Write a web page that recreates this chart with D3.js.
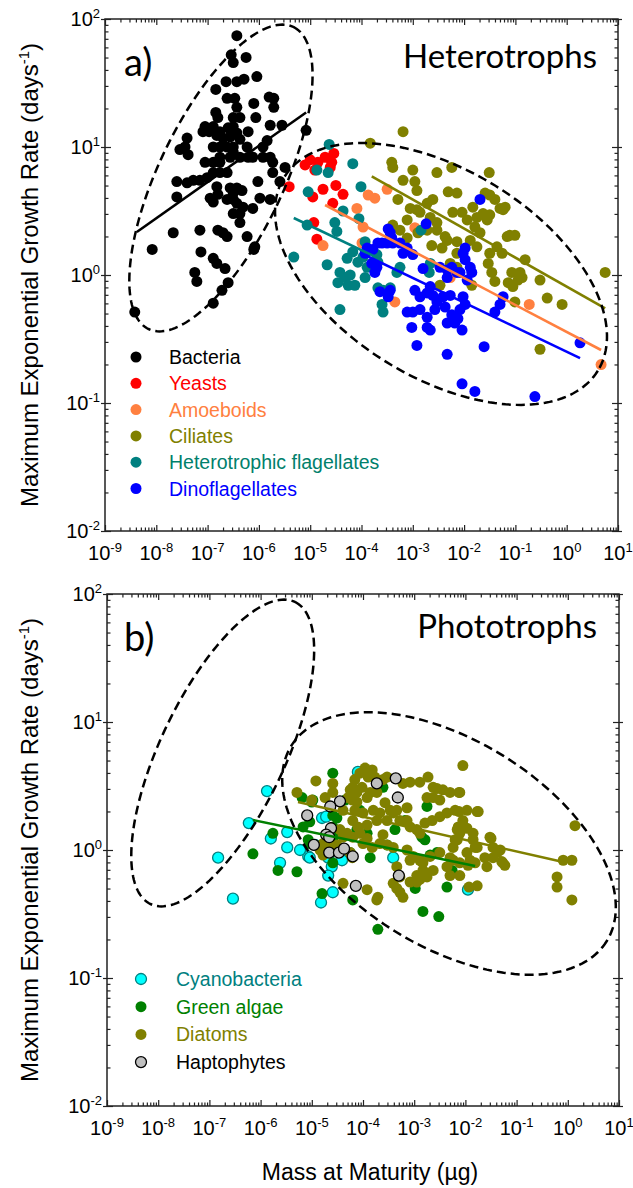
<!DOCTYPE html>
<html>
<head>
<meta charset="utf-8">
<script src="https://cdn.jsdelivr.net/npm/d3@7"></script>
<style>
body { margin: 0; background: #fff; }
text { font-family: "Liberation Sans", Arial, sans-serif; }
.tag { font-family: Lato, "Open Sans", sans-serif; }
</style>
</head>
<body>
<script>
// All points are [log10 mass at maturity (ug), log10 max growth rate (1/day)]

// ---- panel a: heterotrophs
var bacteria = [[-6.43,1.87],[-6.54,1.72],[-6.50,1.66],[-6.25,1.70],[-6.64,1.51],[-6.43,1.51],[-6.29,1.53],[-6.04,1.55],[-6.84,1.45],[-5.80,1.39],[-5.71,1.38],[-5.71,1.31],[-6.62,1.38],[-6.47,1.38],[-6.43,1.31],[-6.10,1.34],[-6.84,1.27],[-6.80,1.23],[-6.50,1.23],[-6.37,1.23],[-6.06,1.23],[-5.78,1.17],[-5.55,1.17],[-7.05,1.16],[-6.89,1.16],[-6.76,1.12],[-6.60,1.15],[-6.50,1.16],[-7.09,1.12],[-6.97,1.12],[-6.21,1.12],[-5.08,1.13],[-7.40,1.07],[-7.44,1.00],[-6.82,1.09],[-6.70,1.07],[-6.56,1.08],[-6.43,1.11],[-6.37,1.06],[-6.89,1.00],[-6.76,1.00],[-6.62,1.00],[-6.50,1.00],[-6.50,0.96],[-6.23,1.00],[-5.84,1.05],[-5.92,1.00],[-7.54,0.98],[-7.38,0.94],[-6.76,0.92],[-6.56,0.92],[-6.37,0.92],[-6.21,0.92],[-6.12,0.92],[-5.92,0.92],[-5.78,0.92],[-6.89,0.88],[-6.76,0.88],[-7.05,0.88],[-6.89,0.80],[-5.49,0.84],[-5.73,0.88],[-5.73,0.80],[-7.60,0.73],[-7.40,0.72],[-7.28,0.74],[-7.15,0.74],[-7.01,0.76],[-6.76,0.80],[-6.62,0.80],[-6.02,0.73],[-5.59,0.73],[-6.82,0.69],[-6.56,0.68],[-6.50,0.64],[-6.43,0.68],[-6.33,0.66],[-6.80,0.63],[-7.60,0.61],[-6.95,0.60],[-6.89,0.57],[-6.62,0.59],[-6.50,0.59],[-6.43,0.56],[-6.31,0.53],[-6.12,0.52],[-5.98,0.60],[-5.78,0.59],[-6.50,0.48],[-6.37,0.48],[-6.37,0.41],[-7.67,0.33],[-8.08,0.20],[-7.15,0.35],[-6.80,0.35],[-6.70,0.33],[-6.62,0.30],[-6.23,0.30],[-6.08,0.22],[-7.13,0.18],[-6.89,0.13],[-6.82,0.09],[-6.66,0.05],[-7.25,0.02],[-7.21,-0.05],[-6.60,-0.06],[-6.72,-0.12],[-6.89,-0.22],[-8.42,-0.29],[-6.10,0.20]];
var yeasts = [[-4.54,0.95],[-4.58,0.88],[-4.61,0.84],[-5.00,0.90],[-4.85,0.88],[-4.91,0.82],[-5.41,0.69],[-4.95,0.61],[-4.75,0.67],[-4.50,0.70],[-4.36,0.63],[-4.56,0.56],[-4.93,0.41],[-4.87,0.28],[-5.10,0.86],[-4.71,0.92]];
var amoeboids = [[-3.87,0.625],[-3.74,0.60],[-3.50,0.67],[-4.09,0.52],[-3.97,0.375],[-4.75,0.23],[-3.99,0.25],[-2.96,0.37],[-3.35,-0.21],[-0.73,-0.23],[0.67,-0.70],[-2.27,-0.02]];
var ciliates = [[-3.19,1.12],[-3.83,1.03],[-3.41,0.88],[-3.39,0.84],[-3.00,0.82],[-2.53,0.80],[-2.24,0.84],[-1.51,0.80],[-3.19,0.74],[-2.96,0.73],[-2.92,0.66],[-3.29,0.59],[-2.61,0.59],[-2.31,0.65],[-2.14,0.64],[-1.59,0.64],[-1.50,0.625],[-1.40,0.59],[-1.30,0.52],[-1.24,0.51],[-1.83,0.53],[-1.94,0.43],[-1.79,0.375],[-1.63,0.48],[-1.55,0.43],[-1.69,0.33],[-3.05,0.52],[-2.92,0.51],[-3.11,0.43],[-2.22,0.49],[-2.04,0.49],[-2.66,0.45],[-2.53,0.41],[-3.39,0.39],[-3.25,0.35],[-2.90,0.33],[-2.72,0.35],[-2.53,0.35],[-1.16,0.30],[-1.11,0.31],[-1.01,0.31],[-1.36,0.22],[-1.50,0.17],[-1.26,0.17],[-0.81,0.12],[-1.07,0.02],[-0.91,0.02],[-0.95,-0.04],[-1.14,-0.06],[-1.05,-0.09],[-0.52,-0.04],[-0.38,-0.18],[-2.14,0.17],[-2.27,0.09],[-2.14,0.06],[-2.33,0.27],[-2.14,0.26],[-2.63,0.23],[-3.11,0.29],[0.75,0.02],[-1.50,0.47],[-1.20,0.53],[-1.75,0.45],[-1.88,0.27],[-1.75,0.22],[-1.46,0.02],[-1.40,-0.05],[-1.85,-0.08],[-2.47,-0.08],[-1.01,-0.21],[-0.09,-0.23],[-0.52,-0.58],[-2.72,0.56],[-2.37,0.30],[-2.86,0.49],[-2.43,0.21],[-1.53,0.09],[-0.87,-0.02]];
var hetFlagellates = [[-4.63,1.02],[-4.17,0.87],[-4.87,0.82],[-4.65,0.80],[-5.04,0.65],[-4.01,0.69],[-4.36,0.50],[-4.52,0.41],[-4.48,0.34],[-4.05,0.44],[-5.06,0.39],[-5.32,0.14],[-4.67,0.08],[-4.42,0.02],[-4.32,-0.02],[-4.22,0.00],[-4.46,-0.06],[-4.26,-0.08],[-4.13,-0.08],[-4.28,0.13],[-4.17,0.18],[-4.07,0.10],[-3.97,0.14],[-3.89,0.06],[-3.93,-0.02],[-3.93,0.26],[-3.70,0.16],[-3.68,0.10],[-3.25,0.06],[-3.31,0.02],[-3.68,-0.10],[-3.58,-0.12],[-3.44,-0.10],[-3.60,-0.23],[-3.58,-0.29],[-4.42,-0.27],[-2.68,0.02],[-2.84,0.35],[-2.66,0.09]];
var dinoflagellates = [[-1.69,0.59],[-2.74,0.40],[-3.48,0.36],[-3.41,0.29],[-3.60,0.25],[-3.50,0.25],[-3.39,0.25],[-3.25,0.25],[-3.11,0.21],[-3.00,0.16],[-3.89,0.21],[-3.78,0.20],[-3.68,0.25],[-3.93,0.17],[-3.80,0.09],[-3.70,0.06],[-3.74,0.02],[-2.80,0.05],[-2.47,0.06],[-2.33,0.04],[-2.24,0.06],[-2.14,0.02],[-2.33,-0.02],[-1.98,0.21],[-2.02,0.17],[-1.98,0.12],[-1.88,0.06],[-1.85,0.02],[-2.08,0.02],[-1.94,-0.04],[-2.66,-0.09],[-2.61,-0.16],[-2.53,-0.21],[-2.41,-0.17],[-2.27,-0.16],[-2.37,-0.25],[-2.57,-0.27],[-2.02,-0.17],[-1.98,-0.23],[-2.08,-0.27],[-2.12,-0.34],[-2.18,-0.375],[-2.24,-0.31],[-2.33,-0.375],[-2.04,-0.43],[-2.66,-0.43],[-1.24,-0.17],[-1.30,-0.23],[-1.40,-0.29],[0.26,-0.53],[-2.33,-0.62],[-1.61,-0.56],[-2.04,-0.85],[-1.79,-0.91],[-0.62,-0.95],[-3.64,-0.13],[-3.44,-0.12],[-3.48,-0.17],[-2.96,-0.12],[-2.86,-0.17],[-2.72,-0.14],[-3.11,-0.29],[-3.00,-0.29],[-2.86,-0.27],[-2.72,-0.33],[-3.02,-0.41],[-2.72,-0.41],[-2.92,-0.55],[-3.19,0.17],[-3.44,0.33]];

// ---- panel b: phototrophs
var cyanobacteria = [[-5.875,0.46],[-6.23,0.21],[-6.83,-0.06],[-6.54,-0.38],[-5.80,0.09],[-5.48,0.14],[-5.48,0.02],[-5.62,-0.10],[-5.07,-0.05],[-4.10,0.61],[-4.80,0.25],[-4.72,0.26],[-5.04,-0.06],[-4.68,-0.06],[-4.41,-0.08],[-4.61,-0.13],[-4.68,-0.20],[-4.59,-0.33],[-4.82,-0.41],[-3.41,-0.06],[-1.95,-0.31],[-5.23,0.00],[-4.94,0.04]];
var greenAlgae = [[-5.76,0.13],[-6.15,-0.03],[-5.66,-0.16],[-5.29,-0.17],[-5.00,0.375],[-5.19,0.41],[-5.04,0.22],[-5.04,0.05],[-4.59,0.60],[-4.98,0.39],[-5.17,0.18],[-5.07,0.08],[-4.59,0.27],[-4.51,0.25],[-4.59,0.18],[-4.51,0.14],[-4.59,0.08],[-3.61,0.49],[-2.75,0.34],[-4.12,0.16],[-3.92,0.13],[-3.86,-0.06],[-3.375,0.16],[-2.85,0.10],[-2.79,0.08],[-2.69,-0.04],[-2.555,-0.02],[-2.98,-0.30],[-2.36,-0.29],[-4.80,-0.34],[-4.20,-0.39],[-4.59,-0.10],[-2.83,-0.48],[-2.52,-0.52],[-3.71,-0.62],[-4.25,-0.02],[-2.26,-0.16],[-3.53,0.04],[-3.18,0.23],[-4.06,0.31],[-4.35,0.39]];
var diatoms = [[-3.96,0.64],[-3.82,0.625],[-3.90,0.57],[-4.06,0.60],[-3.61,0.55],[-3.77,0.57],[-4.16,0.55],[-4.20,0.49],[-4.02,0.49],[-4.12,0.45],[-3.92,0.41],[-3.86,0.45],[-3.73,0.45],[-4.59,0.52],[-4.59,0.45],[-4.92,0.54],[-5.29,0.45],[-4.74,0.41],[-5.00,0.39],[-4.21,0.39],[-4.39,0.31],[-4.16,0.31],[-4.00,0.29],[-3.80,0.31],[-3.67,0.29],[-3.47,0.31],[-3.34,0.31],[-3.14,0.33],[-3.22,0.52],[-3.08,0.53],[-2.89,0.53],[-2.73,0.57],[-2.63,0.49],[-2.555,0.48],[-2.44,0.47],[-2.75,0.41],[-2.63,0.41],[-2.50,0.39],[-2.30,0.45],[-2.05,0.66],[-2.11,0.45],[-2.20,0.31],[-1.97,0.31],[-1.75,0.30],[-4.20,0.23],[-4.10,0.18],[-3.92,0.195],[-3.73,0.23],[-3.53,0.23],[-3.41,0.29],[-3.28,0.23],[-3.14,0.23],[-3.08,0.18],[-2.95,0.16],[-2.89,0.13],[-2.79,0.21],[-2.65,0.23],[-2.50,0.26],[-2.36,0.29],[-4.39,0.10],[-4.20,0.10],[-4.06,0.13],[-4.00,0.05],[-3.82,0.02],[-3.67,0.05],[-3.61,0.12],[-3.14,0.00],[-3.08,-0.08],[-3.02,-0.05],[-2.89,-0.08],[-2.83,-0.10],[-2.83,-0.16],[-2.75,-0.18],[-2.95,-0.20],[-2.89,-0.23],[-2.69,-0.05],[-2.50,-0.02],[-2.24,0.02],[-2.16,0.08],[-2.16,0.16],[-2.11,0.13],[-1.97,0.17],[-1.85,0.13],[-1.85,0.08],[-1.81,0.02],[-1.97,-0.02],[-1.91,-0.08],[-2.11,-0.10],[-2.24,-0.08],[-2.36,-0.13],[-2.30,-0.20],[-1.52,0.10],[-1.46,0.02],[-1.32,0.00],[-1.27,-0.10],[-1.46,-0.06],[-1.58,-0.13],[-3.34,-0.13],[-3.28,-0.21],[-3.08,-0.25],[-2.95,-0.25],[-2.75,-0.21],[-2.63,-0.16],[-3.41,-0.26],[-3.28,-0.33],[-3.22,-0.37],[-3.92,-0.31],[-3.73,-0.39],[-4.39,-0.26],[-0.21,-0.21],[-0.21,-0.29],[-0.09,-0.08],[0.08,-0.08],[0.14,0.19],[0.08,-0.39],[-2.125,0.45],[-2.125,0.30],[-1.77,0.30],[-2.05,0.23],[-2.14,0.18],[-2.20,0.08],[-1.50,0.09],[-1.77,0.02],[-1.38,-0.02],[-2.30,-0.06],[-1.95,-0.12],[-1.81,-0.10],[-1.62,-0.06],[-1.29,-0.09],[-1.23,-0.12],[-2.11,-0.20],[-1.93,-0.29],[-1.77,-0.28],[-4.25,0.47],[-4.29,0.41],[-4.12,0.375],[-3.53,0.57],[-3.57,0.37],[-3.41,0.02],[-3.53,0.04],[-4.45,0.16],[-4.31,0.13],[-3.92,0.09],[-4.78,0.05],[-4.64,0.02],[-4.51,0.04],[-4.84,0.00],[-4.78,-0.04],[-2.85,-0.09],[-4.25,-0.02],[-4.21,-0.06],[-3.71,-0.37],[-3.34,-0.30]];
var haptophytes = [[-3.73,0.52],[-3.36,0.56],[-3.32,0.41],[-4.45,0.38],[-4.64,0.34],[-5.09,0.27],[-4.625,0.17],[-4.72,0.12],[-4.66,0.10],[-4.96,0.04],[-4.66,-0.02],[-4.47,-0.02],[-4.37,0.01],[-4.20,-0.05],[-3.30,-0.20],[-4.14,-0.28]];

// regression lines, two end points each (same log units)
var fitBacteria = [[-8.38,0.336],[-5.08,1.27]];
var fitAmoeboids = [[-4.71,0.547],[0.67,-0.586]];
var fitCiliates = [[-3.80,0.77],[0.75,-0.26]];
var fitHetFlag = [[-5.32,0.445],[-3.64,0.125]];
var fitDinos = [[-3.93,0.156],[0.26,-0.65]];
var fitGreen = [[-6.15,0.234],[-1.81,-0.125]];
var fitDiatoms = [[-5.27,0.375],[-0.09,-0.094]];

// dashed envelopes: centre and two conjugate semi-axes (log units)
var envBacteria = {center: [-6.74, 0.758], u: [1.411, 1.180], v: [1.095, -0.210]};
var envHetero = {center: [-2.45, 0.008], u: [3.057, -0.756], v: [-1.060, -0.689]};
var envPhoto = {center: [-2.32, 0.051], u: [3.082, -0.762], v: [-1.056, -0.686]};

var massExponents = [-9, -8, -7, -6, -5, -4, -3, -2, -1, 0, 1];
var rateExponents = [-2, -1, 0, 1, 2];

var namesA = ["Bacteria", "Yeasts", "Amoeboids", "Ciliates", "Heterotrophic flagellates", "Dinoflagellates"];
var namesB = ["Cyanobacteria", "Green algae", "Diatoms", "Haptophytes"];

var svg = d3.select("body").append("svg")
    .attr("width", 633)
    .attr("height", 1188);

var panels = [
  {tag: "a)", title: "Heterotrophs", left: 105, right: 618, top: 19, bottom: 531, titleDy: 49,
   legX: 136, legTextX: 169, legY: 357, legStep: 26.3, legSize: 19.5,
   series: [
     {name: namesA[0], data: bacteria, fill: "#000000", text: "#000000", fit: fitBacteria},
     {name: namesA[1], data: yeasts, fill: "#ff0000", text: "#ff0000"},
     {name: namesA[2], data: amoeboids, fill: "#ff8040", text: "#ff8040", fit: fitAmoeboids},
     {name: namesA[3], data: ciliates, fill: "#808000", text: "#808000", fit: fitCiliates},
     {name: namesA[4], data: hetFlagellates, fill: "#008080", text: "#00806c", fit: fitHetFlag},
     {name: namesA[5], data: dinoflagellates, fill: "#0000ff", text: "#0000ff", fit: fitDinos}
   ],
   envelopes: [envBacteria, envHetero]},
  {tag: "b)", title: "Phototrophs", left: 107, right: 619, top: 594, bottom: 1106, titleDy: 44,
   legX: 141, legTextX: 176, legY: 979, legStep: 27.7, legSize: 19.5,
   series: [
     {name: namesB[0], data: cyanobacteria, fill: "#00ffff", stroke: "#008080", text: "#008080"},
     {name: namesB[1], data: greenAlgae, fill: "#008000", text: "#008000", fit: fitGreen},
     {name: namesB[2], data: diatoms, fill: "#808000", text: "#808000", fit: fitDiatoms},
     {name: namesB[3], data: haptophytes, fill: "#c0c0c0", stroke: "#000000", text: "#000000"}
   ],
   envelopes: [envBacteria, envPhoto]}
];

panels.forEach(function(p) {
  var g = svg.append("g");
  var x = d3.scaleLog().domain([1e-9, 10]).range([p.left, p.right]);
  var y = d3.scaleLog().domain([1e-2, 1e2]).range([p.bottom, p.top]);
  var px = function(d) { return x(Math.pow(10, d[0])); };
  var py = function(d) { return y(Math.pow(10, d[1])); };

  var majorX = massExponents.map(function(k) { return Math.pow(10, k); });
  var majorY = rateExponents.map(function(k) { return Math.pow(10, k); });
  var minorX = [], minorY = [];
  massExponents.slice(0, -1).forEach(function(k) { d3.range(2, 10).forEach(function(m) { minorX.push(m * Math.pow(10, k)); }); });
  rateExponents.slice(0, -1).forEach(function(k) { d3.range(2, 10).forEach(function(m) { minorY.push(m * Math.pow(10, k)); }); });

  // ticks, all pointing into the plot; majors on the y sides also poke out a little
  function ticks(axis, vals, size, transform) {
    g.append("g").attr("transform", transform)
      .call(axis.tickValues(vals).tickSize(size).tickFormat(""))
      .call(function(s) { s.select(".domain").remove(); s.selectAll("line").attr("stroke", "#222").attr("stroke-width", 1.2); });
  }
  ticks(d3.axisBottom(x), majorX, -6, "translate(0," + p.bottom + ")");
  ticks(d3.axisBottom(x), minorX, -3.5, "translate(0," + p.bottom + ")");
  ticks(d3.axisTop(x), majorX, -6, "translate(0," + p.top + ")");
  ticks(d3.axisTop(x), minorX, -3.5, "translate(0," + p.top + ")");
  ticks(d3.axisLeft(y), majorY, -6, "translate(" + p.left + ",0)");
  ticks(d3.axisLeft(y), majorY, 4, "translate(" + p.left + ",0)");
  ticks(d3.axisLeft(y), minorY, -3.5, "translate(" + p.left + ",0)");
  ticks(d3.axisRight(y), majorY, -6, "translate(" + p.right + ",0)");
  ticks(d3.axisRight(y), majorY, 4, "translate(" + p.right + ",0)");
  ticks(d3.axisRight(y), minorY, -3.5, "translate(" + p.right + ",0)");

  // frame
  g.append("rect")
    .attr("x", p.left).attr("y", p.top)
    .attr("width", p.right - p.left).attr("height", p.bottom - p.top)
    .attr("fill", "none").attr("stroke", "#222").attr("stroke-width", 1.5);

  // tick labels as 10 with a raised exponent
  g.selectAll(".xlab").data(massExponents).enter().append("text")
    .attr("class", "xlab")
    .attr("x", function(k) { return x(Math.pow(10, k)); })
    .attr("y", p.bottom + 29)
    .attr("text-anchor", "middle")
    .style("font-size", "20px")
    .each(function(k) {
      var t = d3.select(this);
      t.append("tspan").text("10");
      t.append("tspan").attr("dy", -8).style("font-size", "13px").text(k);
    });
  g.selectAll(".ylab").data(rateExponents).enter().append("text")
    .attr("class", "ylab")
    .attr("x", p.left - 5)
    .attr("y", function(k) { return y(Math.pow(10, k)) + 7; })
    .attr("text-anchor", "end")
    .style("font-size", "20px")
    .each(function(k) {
      var t = d3.select(this);
      t.append("tspan").text("10");
      t.append("tspan").attr("dy", -8).style("font-size", "13px").text(k);
    });

  // y axis title
  var yt = g.append("text")
    .attr("transform", "translate(38," + (p.top + p.bottom) / 2 + ") rotate(-90)")
    .attr("text-anchor", "middle")
    .style("font-size", "24px");
  yt.append("tspan").text("Maximum Exponential Growth Rate (days");
  yt.append("tspan").attr("dy", -9).style("font-size", "15px").text("-1");
  yt.append("tspan").attr("dy", 9).text(")");

  // points, series in legend order
  p.series.forEach(function(s) {
    g.append("g").selectAll("circle")
      .data(s.data)
      .enter().append("circle")
      .attr("cx", px).attr("cy", py)
      .attr("r", 5.5)
      .attr("fill", s.fill)
      .attr("stroke", s.stroke || "none")
      .attr("stroke-width", s.stroke ? 1.3 : 0);
  });

  // regression lines
  p.series.filter(function(s) { return s.fit; }).forEach(function(s) {
    g.append("path")
      .attr("d", d3.line().x(px).y(py)(s.fit))
      .attr("stroke", s.fill).attr("stroke-width", 2.6).attr("fill", "none");
  });

  // dashed envelopes
  p.envelopes.forEach(function(e) {
    var pts = d3.range(0, 181).map(function(i) {
      var t = i / 180 * 2 * Math.PI;
      return [e.center[0] + e.u[0] * Math.cos(t) + e.v[0] * Math.sin(t),
              e.center[1] + e.u[1] * Math.cos(t) + e.v[1] * Math.sin(t)];
    });
    g.append("path")
      .attr("d", d3.line().x(px).y(py)(pts))
      .attr("fill", "none").attr("stroke", "#000")
      .attr("stroke-width", 2.5).attr("stroke-dasharray", "9,5");
  });

  // legend
  var leg = g.selectAll(".leg").data(p.series).enter().append("g")
    .attr("transform", function(s, i) { return "translate(0," + (p.legY + i * p.legStep) + ")"; });
  leg.append("circle")
    .attr("cx", p.legX).attr("r", 5.5)
    .attr("fill", function(s) { return s.fill; })
    .attr("stroke", function(s) { return s.stroke || "none"; })
    .attr("stroke-width", 1.3);
  leg.append("text")
    .attr("x", p.legTextX).attr("dy", "0.36em")
    .style("font-size", p.legSize + "px")
    .attr("fill", function(s) { return s.text; })
    .text(function(s) { return s.name; });

  // panel tag and title
  g.append("text").attr("class", "tag")
    .attr("x", 124).attr("y", p.top + 57)
    .style("font-size", "38px")
    .text(p.tag);
  g.append("text").attr("class", "tag")
    .attr("x", 597).attr("y", p.top + p.titleDy)
    .attr("text-anchor", "end")
    .style("font-size", "33px")
    .text(p.title);
});

// x axis title under the lower panel
svg.append("text")
  .attr("x", 370).attr("y", 1180)
  .attr("text-anchor", "middle")
  .style("font-size", "23px")
  .text("Mass at Maturity (\u00b5g)");
</script>
</body>
</html>
